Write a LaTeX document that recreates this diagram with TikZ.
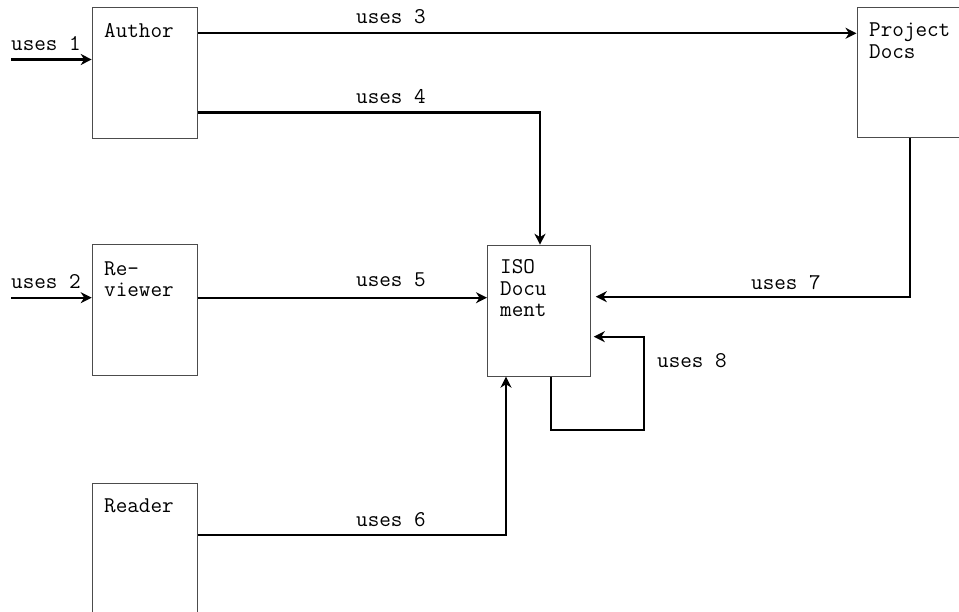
\documentclass[tikz,border=0pt]{standalone}
\usetikzlibrary{arrows.meta,calc}
\begin{document}
\begin{tikzpicture}[x=1pt,y=-1pt,
  font=\ttfamily\fontsize{22.5}{21.5}\selectfont,
  box/.style={draw=black!70,line width=1pt,rectangle,inner sep=0pt,anchor=north west},
  txt/.style={inner sep=0pt,anchor=base west,align=left},
  conn/.style={line width=2.3pt,-{Stealth[length=11pt,width=11pt,inset=3.5pt]}},
  lbl/.style={inner sep=0pt,anchor=base west}]
\clip (0,0) rectangle (959,612);
\fill[white] (0,0) rectangle (959,612);
% boxes
\node[box,minimum width=105pt,minimum height=131pt] (author) at (91.7,6.7) {};
\node[box,minimum width=105pt,minimum height=131pt] (rev) at (91.7,244.3) {};
\node[box,minimum width=105pt,minimum height=160pt] (reader) at (91.7,482.7) {};
\node[box,minimum width=130pt,minimum height=130.5pt] (proj) at (856.5,6.7) {};
\node[box,minimum width=103.3pt,minimum height=131pt] (iso) at (487,244.7) {};
% box texts (base = baseline of the last line)
\node[txt] (authorT) at (104,37.3) {Author};
\node[txt] (revT) at (104,296.7) {Re-\\viewer};
\node[txt] (readerT) at (104,512.7) {Reader};
\node[txt] (projT) at (869,58.5) {Project\\Docs};
\node[txt] (isoT) at (500,317) {ISO\\Docu\\ment};
% free ends and bends
\coordinate (in1) at (11,59.5);
\coordinate (in2) at (11,297.7);
\coordinate (b4) at (540,112.5);
\coordinate (b7) at (910,296.7);
\coordinate (b6) at (506,535);
\coordinate (l8a) at (551,430);
\coordinate (l8b) at (644,336.7);
% connectors
\draw[conn] (in1) -- (in1 -| author.west);
\draw[conn] (in2) -- (in2 -| rev.west);
\draw[conn] (author.east |- 0,33.3) -- (proj.west |- 0,33.3);
\draw[conn] (author.east |- b4) -- (b4) -- (b4 |- iso.north);
\draw[conn] (rev.east |- in2) -- (iso.west |- in2);
\draw[conn] (b6 -| reader.east) -- (b6) -- (b6 |- iso.south);
\draw[conn,shorten >=4.5pt] (b7 |- proj.south) -- (b7) -- (b7 -| iso.east);
\draw[conn,shorten >=2.5pt] (l8a |- iso.south) -- (l8a) -- (l8a -| l8b) -- (l8b) -- (l8b -| iso.east);
% labels
\node[lbl] (u1) at (11,51) {uses 1};
\node[lbl] (u2) at (11,288.3) {uses 2};
\node[lbl] (u3) at (356,24) {uses 3};
\node[lbl] (u4) at (356,104) {uses 4};
\node[lbl] (u5) at (356,286.7) {uses 5};
\node[lbl] (u6) at (356,526) {uses 6};
\node[lbl] (u7) at (751,289.3) {uses 7};
\node[lbl] (u8) at (657,367.3) {uses 8};
\end{tikzpicture}
\end{document}
